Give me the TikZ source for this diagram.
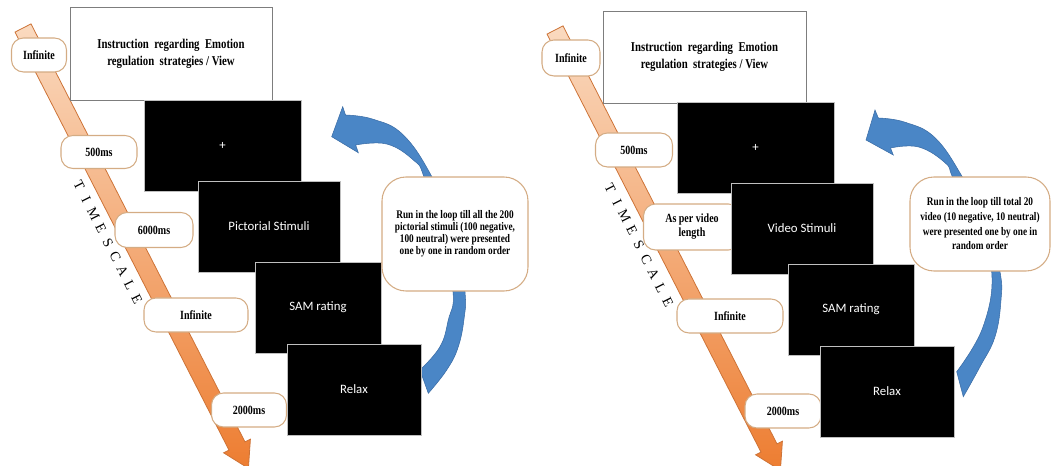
\documentclass[tikz,border=0pt]{standalone}
\usepackage{fontspec}
\setmainfont{Liberation Serif}
\newfontfamily\condserif[FakeStretch=0.8]{Liberation Serif}
\newfontfamily\calib{Carlito}
\definecolor{peachL}{RGB}{250,218,192}
\definecolor{orangeD}{RGB}{237,125,49}
\definecolor{orangeE}{RGB}{205,115,55}
\definecolor{tanc}{RGB}{212,172,132}
\definecolor{bluef}{RGB}{74,134,198}
\definecolor{bluee}{RGB}{58,108,165}
\definecolor{grayb}{RGB}{125,125,125}
\newcommand\tsword{\makebox[12pt]{T}\makebox[12pt]{I}\makebox[12pt]{M}\makebox[12pt]{E}\makebox[12pt]{S}\makebox[12pt]{C}\makebox[12pt]{A}\makebox[12pt]{L}\makebox[12pt]{E}}
\begin{document}
\begin{tikzpicture}[x=0.75pt,y=-0.75pt,
  timearrow/.style={top color=peachL, bottom color=orangeD, draw=orangeE, line width=0.6pt, line join=miter},
  lbl/.style={draw=tanc, fill=white, line width=0.8pt, rounded corners=9pt, inner sep=0pt, align=center,
    font=\condserif\bfseries\fontsize{9.4}{10.5}\selectfont},
  instr/.style={draw=grayb, fill=white, line width=0.6pt, inner sep=0pt, align=center,
    font=\condserif\bfseries\fontsize{10.1}{12.5}\selectfont},
  blk/.style={draw=gray!50, fill=black, line width=0.5pt, inner sep=0pt, text=white,
    font=\calib\fontsize{9.6}{11}\selectfont},
  loopbox/.style={draw=tanc, fill=white, line width=0.8pt, rounded corners=18pt, inner sep=0pt, align=center,
    font=\condserif\bfseries\fontsize{8.7}{9}\selectfont},
  bluearr/.style={fill=bluef, draw=bluee, line width=0.4pt},
  tsc/.style={font=\fontsize{10.5}{11}\selectfont, rotate=-63.2, inner sep=0pt}]
\useasboundingbox (0,0) rectangle (1051,466);
\clip (0,0) rectangle (1051,466);

% ---------------- orange time arrows
\draw[timearrow] (15,32.1) -- (31,23.9) -- (245,441.9) -- (250.4,439.2) -- (248.4,468.3) -- (223.6,452.8) -- (229,450.1) -- cycle;
\draw[timearrow] (547,34.1) -- (563,25.9) -- (777,443.9) -- (782.4,441.2) -- (780.4,470.3) -- (755.6,454.8) -- (761,452.1) -- cycle;

% ---------------- time labels (left)
\node[lbl, minimum width=41.25pt, minimum height=25.5pt] (l1) at (39,55) {Infinite};
\node[lbl, minimum width=57pt, minimum height=24.75pt] (l2) at (99,152) {500ms};
\node[lbl, minimum width=58.5pt, minimum height=26.25pt] (l3) at (154,230) {6000ms};
\node[lbl, minimum width=78pt, minimum height=25.5pt] (l4) at (196,315) {Infinite};
\node[lbl, minimum width=56.25pt, minimum height=25.5pt] (l5) at (249,410) {2000ms};
% ---------------- time labels (right)
\node[lbl, minimum width=43.5pt, minimum height=27pt] (r1) at (571,58) {Infinite};
\node[lbl, minimum width=57.75pt, minimum height=25.5pt] (r2) at (634,150) {500ms};
\node[lbl, minimum width=72.75pt, minimum height=34.5pt] (r3) at (692,227) {As per video\\length};
\node[lbl, minimum width=79.5pt, minimum height=25.5pt] (r4) at (730,316) {Infinite};
\node[lbl, minimum width=57pt, minimum height=25.5pt] (r5) at (783,411) {2000ms};

% ---------------- TIMESCALE
\node[tsc] (tsL) at (108,242.5) {\tsword};
\node[tsc] (tsR) at (639,245) {\tsword};

% ---------------- instruction boxes
\node[instr, minimum width=151.5pt, minimum height=69.75pt] (insL) at (171,53.5)
  {Instruction\ \ regarding\ \ Emotion\\regulation\ \ strategies / View};
\node[instr, minimum width=152.25pt, minimum height=69pt] (insR) at (704.5,57)
  {Instruction\ \ regarding\ \ Emotion\\regulation\ \ strategies / View};

% ---------------- blue loop arrows
\draw[bluearr] (342.7,106.7) -- (331.7,136.7) -- (358.3,152.7) -- (355.7,145)
  -- plot[smooth,tension=0.7] coordinates {(355.7,145) (386.7,144) (413.3,160) (424,177) (440,235) (453,292) (448.3,320) (440,346.7) (420,370)}
  -- (428.3,393.3)
  -- plot[smooth,tension=0.7] coordinates {(428.3,393.3) (446.7,370) (458.3,346.7) (464.3,316.7) (465,292) (458,235) (432,177) (403.3,135) (373.3,119.3) (345.5,115)}
  -- cycle;
\draw[bluearr] (875,110) -- (866,140) -- (893.3,155) -- (890.5,148)
  -- plot[smooth,tension=0.7] coordinates {(890.5,148) (918.7,147) (945.3,163) (953,178) (975,225) (991.7,271.7) (983,327) (956.7,371.7)}
  -- (963.3,396.7)
  -- plot[smooth,tension=0.7] coordinates {(963.3,396.7) (980,366.7) (995,336.7) (1001,300) (1000,271.7) (988,225) (963,178) (935.3,138) (905.3,122.3) (878.3,118)}
  -- cycle;

% ---------------- black stimulus boxes (left)
\node[blk, minimum width=117.75pt, minimum height=68.25pt] (bL1) at (222.5,145.5) {+};
\node[blk, minimum width=106.5pt, minimum height=68.25pt] (bL2) at (269,226.5) {Pictorial Stimuli};
\node[blk, minimum width=94.5pt, minimum height=68.25pt] (bL3) at (318,307.5) {SAM rating};
\node[blk, minimum width=100.5pt, minimum height=68.25pt] (bL4) at (354,389.5) {Relax};
% ---------------- black stimulus boxes (right)
\node[blk, minimum width=117.75pt, minimum height=68.25pt] (bR1) at (755.5,147.5) {+};
\node[blk, minimum width=106.5pt, minimum height=68.25pt] (bR2) at (802,228.5) {Video Stimuli};
\node[blk, minimum width=94.5pt, minimum height=68.25pt] (bR3) at (851,309.5) {SAM rating};
\node[blk, minimum width=100.5pt, minimum height=68.25pt] (bR4) at (887,391.5) {Relax};

% ---------------- loop boxes
\node[loopbox, minimum width=109.5pt, minimum height=85.5pt] (loopL) at (455,234)
  {Run in the loop till all the 200\\pictorial stimuli (100 negative,\\100 neutral) were presented\\one by one in random order};
\node[loopbox, minimum width=105pt, minimum height=70.5pt, font=\condserif\bfseries\fontsize{8.7}{11}\selectfont] (loopR) at (980,224)
  {Run in the loop till total 20\\video (10 negative, 10 neutral)\\were presented one by one in\\random order};
\end{tikzpicture}
\end{document}
